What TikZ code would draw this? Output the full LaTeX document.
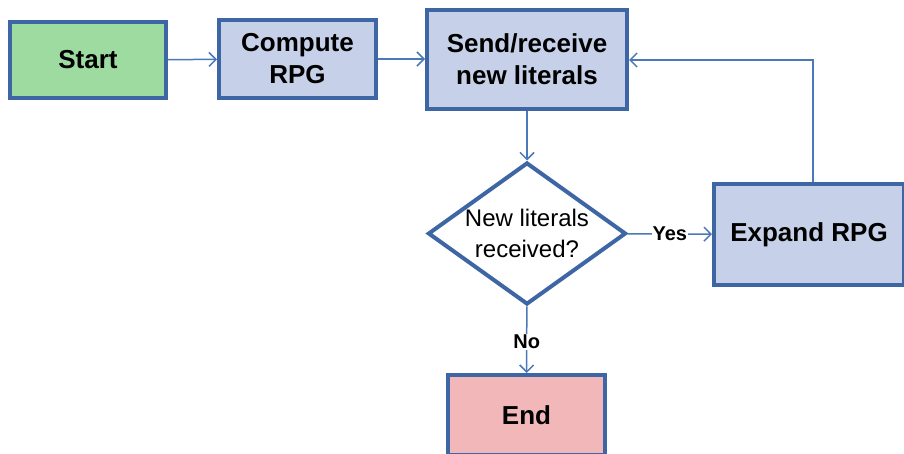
\documentclass[tikz,border=0pt]{standalone}
\usepackage{fontspec}
\setmainfont{Liberation Sans}
\usetikzlibrary{shapes.geometric,arrows.meta}
\definecolor{boxline}{HTML}{3E66A5}
\definecolor{flowline}{HTML}{4A78B8}
\definecolor{startfill}{HTML}{9DDBA1}
\definecolor{procfill}{HTML}{C6D1E9}
\definecolor{endfill}{HTML}{F2B8B9}
\tikzset{
  block/.style={draw=boxline, line width=4pt, rectangle, align=center,
    inner sep=0pt, font=\bfseries\fontsize{26}{32}\selectfont},
  decision/.style={draw=boxline, line width=4pt, diamond, fill=white,
    inner sep=0pt},
  question/.style={align=center, inner sep=0pt, font=\fontsize{24}{31}\selectfont},
  flow/.style={draw=flowline, line width=1.5pt,
    -{Straight Barb[length=7pt,width=14pt,line width=1.5pt]}},
  tag/.style={font=\bfseries\fontsize{20}{24}\selectfont, fill=white, inner sep=1pt}
}
\begin{document}
\begin{tikzpicture}[x=1pt,y=-1pt]
  \useasboundingbox (0,0) rectangle (904,453);
  \node[block, fill=startfill, minimum width=156pt, minimum height=76pt] (start) at (88,60) {Start};
  \node[block, fill=procfill, minimum width=157pt, minimum height=78pt] (compute) at (297.5,59) {Compute\\RPG};
  \node[block, fill=procfill, minimum width=200pt, minimum height=99pt] (send) at (527,59.5) {Send/receive\\new literals};
  \node[decision, minimum width=198pt, minimum height=142pt] (check) at (527,233.5) {};
  \node[question] (checktext) at (check.center) {New literals\\received?};
  \node[block, fill=procfill, minimum width=190pt, minimum height=101pt] (expand) at (809,234.5) {Expand RPG};
  \node[block, fill=endfill, minimum width=157pt, minimum height=80pt] (finish) at (526.5,415) {End};
  \coordinate (turn) at (813,60);

  \draw[flow] (start) -- (compute);
  \draw[flow] (compute.east) -- (send.west |- compute.east);
  \draw[flow] (send) -- (check);
  \draw[flow] (check) -- node[tag] (yes) {Yes} (expand);
  \draw[flow] (check) -- node[tag, pos=0.53] (no) {No} (finish);
  \draw[flow] (expand.north -| turn) -- (turn) -- (send.east |- turn);
\end{tikzpicture}
\end{document}
